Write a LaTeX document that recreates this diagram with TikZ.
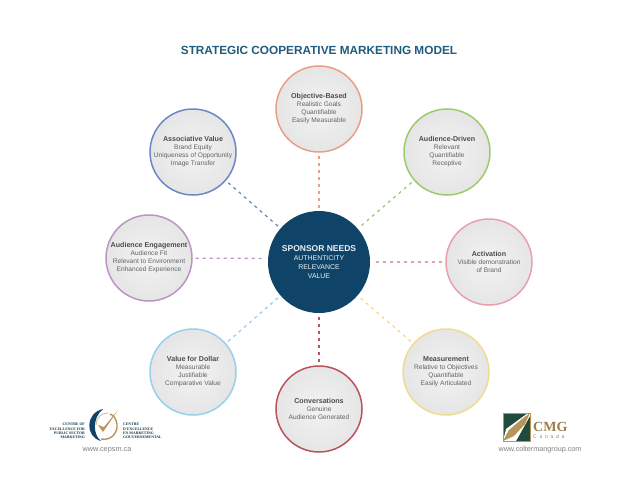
\documentclass[tikz,border=0pt]{standalone}
\usepackage{xcolor}
\usepackage{fontspec}
\setmainfont{Liberation Sans}
\newfontfamily\logofont{Liberation Serif}
\newfontfamily\spacedfont[LetterSpace=55]{Liberation Sans}
\definecolor{navy}{HTML}{0F4468}
\definecolor{titleblue}{HTML}{1F5C7E}
\definecolor{ringorange}{HTML}{E8A084}
\definecolor{ringgreen}{HTML}{9CCB6C}
\definecolor{ringpink}{HTML}{E8A0AC}
\definecolor{ringyellow}{HTML}{F0DC90}
\definecolor{ringred}{HTML}{B8545C}
\definecolor{ringsky}{HTML}{98D0EC}
\definecolor{ringpurple}{HTML}{BC94C4}
\definecolor{ringblue}{HTML}{6C88C4}
\definecolor{bodygray}{HTML}{606368}
\definecolor{logotan}{HTML}{B8935A}
\definecolor{logogreen}{HTML}{1F4A3C}
\usetikzlibrary{positioning}
\tikzset{
  petal/.style = {shape=circle, minimum size=86pt, inner sep=0pt, line width=1.5pt,
    draw=#1, align=center, font=\fontsize{6.6pt}{8pt}\selectfont, text=bodygray,
    inner color=gray!10, outer color=gray!20},
  link/.style = {draw=#1, line width=1.3pt, dash pattern=on 3pt off 4pt,
    shorten <=3pt, shorten >=3pt},
  small/.style = {inner sep=0pt, text=gray, align=center}
}
\newcommand{\head}[1]{{\fontsize{7.1pt}{8pt}\selectfont\bfseries\color{black!70} #1}}
\begin{document}
\begin{tikzpicture}[x=1pt, y=-1pt]
    \useasboundingbox (0,0) rectangle (638,493);
    \node[inner sep=0pt, text=titleblue, font=\fontsize{11.8pt}{14pt}\selectfont\bfseries] (title)
        at (319,50) {STRATEGIC COOPERATIVE MARKETING MODEL};

    \node[shape=circle, fill=navy, minimum size=102pt, inner sep=0pt, text=white!92!navy, align=center,
        font=\fontsize{6.9pt}{9.2pt}\selectfont] (needs) at (319,262)
        {{\fontsize{8.5pt}{10pt}\selectfont\bfseries SPONSOR NEEDS}\\AUTHENTICITY\\RELEVANCE\\VALUE};

    \node[petal=ringorange] (objective) at (319,109)
        {\head{Objective-Based}\\Realistic Goals\\Quantifiable\\Easily Measurable};
    \node[petal=ringgreen] (driven) at (447,152)
        {\head{Audience-Driven}\\Relevant\\Quantifiable\\Receptive};
    \node[petal=ringpink] (activation) at (489,262)
        {\head{Activation}\\Visible demonstration\\of Brand};
    \node[petal=ringyellow] (measurement) at (446,372)
        {\head{Measurement}\\Relative to Objectives\\Quantifiable\\Easily Articulated};
    \node[petal=ringred] (conversations) at (319,409)
        {\head{Conversations}\\Genuine\\Audience Generated};
    \node[petal=ringsky] (dollar) at (193,372)
        {\head{Value for Dollar}\\Measurable\\Justifiable\\Comparative Value};
    \node[petal=ringpurple] (engagement) at (149,258)
        {\head{Audience Engagement}\\Audience Fit\\Relevant to Environment\\Enhanced Experience};
    \node[petal=ringblue] (associative) at (193,152)
        {\head{Associative Value}\\Brand Equity\\Uniqueness of Opportunity\\Image Transfer};

    \draw[link=ringorange] (objective) -- (needs);
    \draw[link=ringgreen] (driven) -- (needs);
    \draw[link=ringpink] (activation) -- (needs);
    \draw[link=ringyellow] (measurement) -- (needs);
    \draw[link=ringred] (conversations) -- (needs);
    \draw[link=ringsky] (dollar) -- (needs);
    \draw[link=ringpurple] (engagement) -- (needs.176);
    \draw[link=ringblue] (associative) -- (needs);

    % left logo
    \fill[navy] (103,409) .. controls (85,413) and (85,437) .. (101,441)
        .. controls (93,435) and (92,418) .. cycle;
    \draw[line width=1.4pt, draw=logotan] (101,439) .. controls (112,441) and (118,432) .. (117,424)
        .. controls (116,418) and (113,415) .. (110,414);
    \draw[line width=0.9pt, draw=logotan!60] (108,413) .. controls (101,413) and (96,418) .. (96,425);
    \fill[logotan] (98,425) -- (103,432) -- (118,410) -- (104,427) -- cycle;
    \node[small, text=navy!70!black, left, font=\logofont\fontsize{3.8pt}{4.3pt}\selectfont\bfseries, align=right] (centre)
        at (85,431) {CENTRE OF\\EXCELLENCE FOR\\PUBLIC SECTOR\\MARKETING};
    \node[small, text=navy!70!black, right, font=\logofont\fontsize{3.8pt}{4.3pt}\selectfont\bfseries, align=left] (centrefr)
        at (123,431) {CENTRE\\D'EXCELLENCE\\EN MARKETING\\GOUVERNEMENTAL};
    \node[small, font=\fontsize{7.3pt}{8pt}\selectfont] (cepsm) at (107,450) {www.cepsm.ca};

    % right logo
    \fill[logogreen] (503,413) rectangle (530,441);
    \fill[white] (503,441) -- (506,429) -- (528,413) -- (530,413) -- (530,416) -- (516,441) -- cycle;
    \fill[logotan] (503,441) -- (509,430) -- (522,419) -- (530,413) -- (525,424) -- (514,436) -- cycle;
    \draw[logotan, line width=0.8pt] (503,413) rectangle (530,441);
    \node[small, right, text=logotan!85!black, font=\logofont\fontsize{14pt}{14pt}\selectfont\bfseries] (cmg) at (533,427) {CMG};
    \node[small, right, text=logotan!85!black, font=\spacedfont\fontsize{5pt}{5pt}\selectfont] (canada) at (533,437) {Canada};
    \node[small, font=\fontsize{7.2pt}{8pt}\selectfont] (colterman) at (540,450) {www.coltermangroup.com};
\end{tikzpicture}
\end{document}
